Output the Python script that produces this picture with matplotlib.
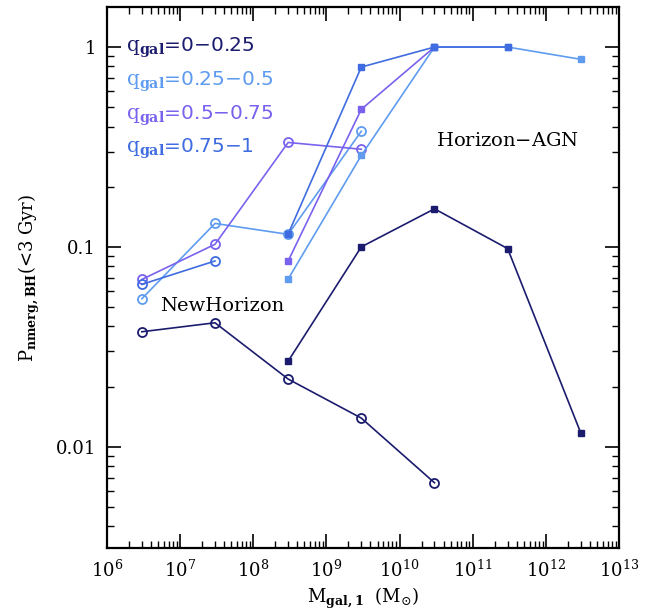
#!/usr/bin/env python3
import numpy as np
import matplotlib
matplotlib.use("Agg")
import matplotlib.pyplot as plt
from matplotlib.ticker import LogLocator, FixedLocator, FuncFormatter, NullFormatter

plt.rcParams['font.family'] = ['DejaVu Serif']
plt.rcParams['mathtext.fontset'] = 'dejavuserif'

# galaxy stellar mass bins (M_sun)
mass_nh = [3e6, 3e7, 3e8, 3e9, 3e10]
mass_hagn = [3e8, 3e9, 3e10, 3e11, 3e12]

labels = ["0$-$0.25", "0.25$-$0.5", "0.5$-$0.75", "0.75$-$1"]
colors = ["#1c1c6e", "#5f9cf0", "#7a62ee", "#3f6ce0"]

# NewHorizon (open circles)
nh_q1 = [0.0376, 0.0417, 0.0218, 0.0139, 0.0066]
nh_q2 = [0.055, 0.131, 0.1155, 0.379]
nh_q3 = [0.0687, 0.103, 0.333, 0.308]
nh_q4 = [0.0649, 0.085]

# Horizon-AGN (filled squares)
hagn_q1 = [0.0268, 0.1, 0.155, 0.098, 0.0117]
hagn_q2 = [0.069, 0.287, 1.0, 1.0, 0.868]
hagn_q3 = [0.085, 0.488, 1.0]
hagn_q4 = [0.116, 0.794, 1.0, 1.0]

nh_all = [nh_q1, nh_q2, nh_q3, nh_q4]
hagn_all = [hagn_q1, hagn_q2, hagn_q3, hagn_q4]


def main():
    fig = plt.figure(figsize=(6.6, 6.11), dpi=100)
    ax = fig.add_axes([0.162, 0.103, 0.776, 0.885])

    for vals, col in zip(nh_all, colors):
        ax.plot(mass_nh[:len(vals)], vals, '-o', color=col, lw=1.2,
                ms=6.5, mfc='none', mec=col, mew=1.3)
    for vals, col in zip(hagn_all, colors):
        ax.plot(mass_hagn[:len(vals)], vals, '-s', color=col, lw=1.2,
                ms=5, mfc=col, mec=col)

    ax.set_xscale('log')
    ax.set_yscale('log')
    ax.set_xlim(1e6, 1e13)
    ax.set_ylim(0.00311, 1.58)

    ax.xaxis.set_major_locator(FixedLocator([10.0**k for k in range(6, 14)]))
    ax.xaxis.set_minor_locator(LogLocator(base=10, subs=np.arange(2, 10), numticks=20))
    ax.xaxis.set_major_formatter(FuncFormatter(lambda v, p: r'$10^{%d}$' % round(np.log10(v))))
    ax.xaxis.set_minor_formatter(NullFormatter())

    ax.yaxis.set_major_locator(FixedLocator([0.01, 0.1, 1]))
    ax.yaxis.set_minor_locator(LogLocator(base=10, subs=np.arange(2, 10), numticks=20))
    ax.yaxis.set_major_formatter(FuncFormatter(lambda v, p: {0.01: '0.01', 0.1: '0.1', 1: '1'}.get(round(v, 3), '')))
    ax.yaxis.set_minor_formatter(NullFormatter())

    ax.tick_params(which='both', direction='in', top=True, right=True, labelsize=13)
    ax.tick_params(which='major', length=10, width=1.2, pad=8)
    ax.tick_params(which='minor', length=5, width=1.0)
    for sp in ax.spines.values():
        sp.set_linewidth(1.6)

    ax.set_xlabel(r'$\mathrm{M}_{\mathbf{gal,1}}\ \ (\mathrm{M}_{\odot})$', fontsize=13, labelpad=4)
    ax.set_ylabel(r'$\mathrm{P}_{\mathbf{nmerg,BH}}$(<3 Gyr)', fontsize=13, labelpad=10)

    for i, (lab, col) in enumerate(zip(labels, colors)):
        ax.text(0.038, 0.926 - i * 0.0628, r'$\mathrm{q}_{\mathbf{gal}}$=' + lab,
                transform=ax.transAxes, color=col, fontsize=14.5,
                family='DejaVu Sans', va='center', ha='left')

    ax.text(0.103, 0.447, 'NewHorizon', transform=ax.transAxes, fontsize=14, va='center')
    ax.text(0.643, 0.752, 'Horizon$-$AGN', transform=ax.transAxes, fontsize=14, va='center')

    fig.savefig('out.png', dpi=100)
    plt.close(fig)


if __name__ == "__main__":
    main()
